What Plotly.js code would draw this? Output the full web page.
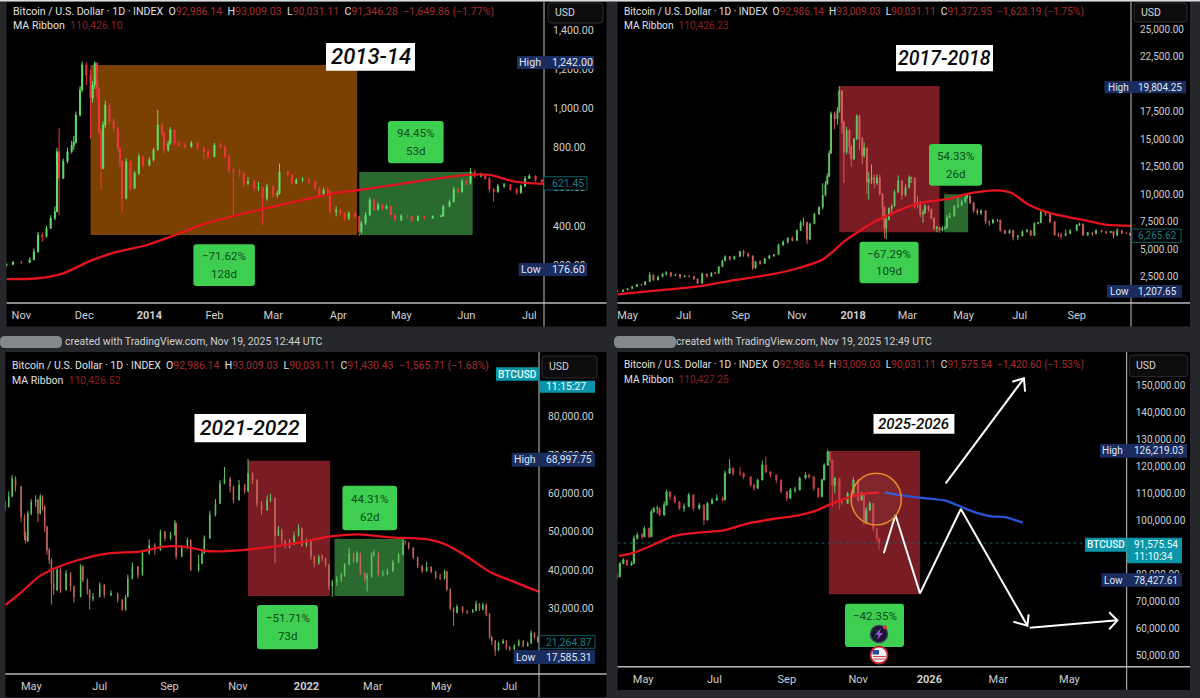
<!DOCTYPE html>
<html><head><meta charset="utf-8">
<script src="https://cdn.plot.ly/plotly-3.0.1.min.js"></script>
<style>html,body{margin:0;padding:0;background:#26272a}#c{width:1200px;height:698px}</style>
</head><body><div id="c"></div>
<script>
// ---------- Panel 1: 2013-14 ----------
const p1Dates=['2013-10-25','2013-10-28','2013-11-01','2013-11-05','2013-11-07','2013-11-09','2013-11-11','2013-11-13','2013-11-15','2013-11-17',
'2013-11-18','2013-11-19','2013-11-21','2013-11-23','2013-11-25','2013-11-26','2013-11-27','2013-11-29','2013-11-30','2013-12-02',
'2013-12-04','2013-12-05','2013-12-06','2013-12-07','2013-12-08','2013-12-09','2013-12-10','2013-12-11','2013-12-13','2013-12-15',
'2013-12-17','2013-12-18','2013-12-19','2013-12-21','2013-12-23','2013-12-25','2013-12-27','2013-12-29','2014-01-01','2014-01-03',
'2014-01-05','2014-01-07','2014-01-08','2014-01-10','2014-01-11','2014-01-13','2014-01-15','2014-01-18','2014-01-21','2014-01-24',
'2014-01-27','2014-01-29','2014-02-01','2014-02-04','2014-02-06','2014-02-08','2014-02-10','2014-02-13','2014-02-15','2014-02-17',
'2014-02-20','2014-02-22','2014-02-24','2014-02-26','2014-03-01','2014-03-03','2014-03-04','2014-03-08','2014-03-10','2014-03-12',
'2014-03-15','2014-03-18','2014-03-21','2014-03-23','2014-03-25','2014-03-27','2014-03-28','2014-03-31','2014-04-02','2014-04-04',
'2014-04-06','2014-04-09','2014-04-11','2014-04-12','2014-04-14','2014-04-16','2014-04-18','2014-04-20','2014-04-22','2014-04-24',
'2014-04-26','2014-04-28','2014-05-01','2014-05-04','2014-05-06','2014-05-09','2014-05-12','2014-05-16','2014-05-20','2014-05-21',
'2014-05-24','2014-05-26','2014-05-28','2014-05-30','2014-06-01','2014-06-03','2014-06-05','2014-06-08','2014-06-10','2014-06-12',
'2014-06-14','2014-06-16','2014-06-19','2014-06-22','2014-06-25','2014-06-27','2014-06-29','2014-07-01','2014-07-04','2014-07-07'];
const p1Close=[204,215,214,227,269,354,346,388,440,473,
780,644,730,780,810,828,967,1095,1223,1172,
1053,1120,1231,1104,882,695,916,1018,933,899,
797,729,542,729,593,669,755,712,737,789,
916,874,789,823,891,823,814,806,823,797,
780,755,814,806,755,686,678,669,618,627,
593,598,542,601,559,567,677,660,618,635,
638,627,592,558,584,575,473,480,465,439,
465,448,371,414,456,533,485,507,490,499,
456,431,451,448,427,448,439,448,451,499,
524,587,575,627,618,677,655,660,643,587,
575,604,609,587,570,604,643,655,635,627];
const p1High=[212,220,222,240,285,370,365,400,455,500,
800,899,745,800,835,860,985,1115,1240,1235,
1200,1140,1242,1236,1110,900,935,1040,1025,950,
905,800,735,745,735,680,770,762,750,800,
993,925,880,835,905,895,835,830,835,830,
805,790,825,825,812,765,700,690,680,650,
635,625,600,615,610,580,720,685,665,645,
650,645,632,600,595,600,580,500,490,470,
475,470,452,425,470,545,540,520,515,510,
505,462,460,458,452,455,452,455,458,510,
535,600,595,640,640,695,685,672,668,650,
595,615,620,615,595,612,655,665,660,640];
const p1Low=[190,200,206,215,225,262,320,340,385,430,
470,456,640,720,770,790,820,960,1085,1120,
848,1030,1100,1050,870,584,690,900,915,880,
780,700,465,535,580,590,660,700,705,730,
785,860,770,780,815,810,805,795,800,785,
740,745,750,795,745,670,457,650,600,610,
580,580,405,530,545,545,560,650,610,615,
625,615,585,550,550,560,460,450,450,425,
430,440,349,360,405,450,475,480,480,485,
445,425,425,440,420,425,432,438,445,448,
495,520,565,570,610,612,645,648,635,570,
524,570,595,580,560,565,600,640,625,618];
const p1MaDates=['2013-10-25','2013-11-09','2013-11-21','2013-12-03','2013-12-16','2013-12-31','2014-01-12','2014-01-27','2014-02-10','2014-03-01','2014-03-20','2014-03-30','2014-04-11','2014-04-26','2014-05-10','2014-06-01','2014-06-12','2014-06-24','2014-07-08'];
const p1Ma=[128,133,158,218,266,303,349,410,451,499,545,567,584,608,630,661,661,627,615];

// ---------- Panel 2: 2017-2018 ----------
const p2Dates=['2017-04-20','2017-04-26','2017-05-01','2017-05-06','2017-05-11','2017-05-16','2017-05-20','2017-05-25','2017-05-29','2017-06-03',
'2017-06-08','2017-06-12','2017-06-17','2017-06-22','2017-06-27','2017-07-02','2017-07-07','2017-07-12','2017-07-16','2017-07-21',
'2017-07-26','2017-07-31','2017-08-04','2017-08-08','2017-08-12','2017-08-15','2017-08-20','2017-08-25','2017-08-31','2017-09-04',
'2017-09-09','2017-09-14','2017-09-17','2017-09-22','2017-09-27','2017-10-02','2017-10-07','2017-10-12','2017-10-17','2017-10-22',
'2017-10-27','2017-11-01','2017-11-05','2017-11-08','2017-11-12','2017-11-15','2017-11-20','2017-11-25','2017-11-29','2017-12-02',
'2017-12-04','2017-12-06','2017-12-08','2017-12-12','2017-12-15','2017-12-17','2017-12-20','2017-12-22','2017-12-25','2017-12-28',
'2017-12-30','2018-01-02','2018-01-05','2018-01-08','2018-01-11','2018-01-13','2018-01-16','2018-01-18','2018-01-21','2018-01-24',
'2018-01-27','2018-01-30','2018-02-02','2018-02-04','2018-02-06','2018-02-09','2018-02-12','2018-02-15','2018-02-19','2018-02-23',
'2018-02-27','2018-03-03','2018-03-05','2018-03-09','2018-03-12','2018-03-15','2018-03-18','2018-03-20','2018-03-24','2018-03-27',
'2018-03-30','2018-04-02','2018-04-05','2018-04-08','2018-04-11','2018-04-13','2018-04-16','2018-04-21','2018-04-25','2018-04-29',
'2018-05-03','2018-05-05','2018-05-08','2018-05-12','2018-05-16','2018-05-20','2018-05-25','2018-05-29','2018-06-02','2018-06-07',
'2018-06-10','2018-06-15','2018-06-20','2018-06-24','2018-06-29','2018-07-04','2018-07-09','2018-07-13','2018-07-17','2018-07-21',
'2018-07-24','2018-07-29','2018-08-03','2018-08-08','2018-08-12','2018-08-15','2018-08-20','2018-08-25','2018-09-01','2018-09-04',
'2018-09-08','2018-09-13','2018-09-18','2018-09-22','2018-09-28','2018-10-03','2018-10-08','2018-10-11','2018-10-15','2018-10-20',
'2018-10-25','2018-10-29'];
const p2Close=[1150,1300,1420,1600,1800,1750,2050,2660,2200,2500,
2750,2870,2620,2700,2500,2570,2520,2300,1900,2750,
2550,2850,2820,3400,3950,4325,4100,4350,4780,4600,
4400,3300,3870,3700,4150,4400,4500,5400,5650,6000,
5800,6700,7400,7450,5900,7300,8200,8800,9900,10900,
11600,13700,17300,16800,17600,19400,16500,13800,15800,14300,
13200,15000,17100,15000,13500,14200,11100,11300,11500,11000,
11500,10000,8800,6900,7700,8700,8900,10200,11200,9900,
10600,11500,11500,9300,9200,8200,8300,8900,8600,7800,
6900,7000,6700,6900,6950,7900,8000,8900,9000,9300,
9700,9850,9200,8500,8300,8500,7500,7400,7650,7650,
6700,6450,6700,6100,6200,6600,6700,6250,7350,7400,
8400,8200,7500,6300,6300,6250,6400,6700,7200,7300,
6300,6500,6400,6700,6600,6500,6600,6250,6700,6450,
6450,6270];
const p2High=[1200,1340,1460,1640,1850,1850,2100,2900,2700,2560,
2820,3000,2900,2760,2760,2640,2610,2550,2340,2850,
2780,2900,2900,3450,4050,4450,4370,4400,4850,4950,
4650,4400,3950,4000,4200,4480,4550,5500,5800,6100,
6150,6800,7600,7850,7300,7400,8300,8900,11000,11200,
11900,14000,17500,17500,17900,19804,19400,16700,16100,15900,
14500,15100,17250,17200,15200,14700,14000,12000,12700,11800,
11800,11800,10100,8900,7900,8800,9100,10400,11700,11300,
10900,11700,11600,11500,9800,9400,8600,9100,9000,8700,
7900,7100,7100,7100,7100,8100,8300,9000,9700,9500,
9800,10020,9900,9300,8700,8600,8500,7600,7750,7750,
7650,6700,6800,6750,6300,6700,6850,6750,7450,7500,
8470,8300,8200,7500,6500,6500,6800,6800,7300,7400,
7300,6550,6500,6800,6800,6650,6650,6600,6900,6600,
6500,6400];
const p2Low=[1100,1140,1290,1400,1580,1700,1740,2050,2100,2180,
2480,2600,2450,2550,2300,2440,2440,2240,1850,1890,
2400,2500,2750,2800,3380,3900,3950,4050,4300,4300,
4250,3115,3200,3600,3680,4100,4300,4500,5300,5500,
5700,5780,6700,7100,5500,5850,7300,8100,8600,9800,
10900,11600,13700,15900,16300,17400,15500,11000,13600,13600,
12500,13100,14900,14000,12700,13300,10000,9500,10900,10500,
10800,9900,7700,6000,5900,7600,8200,8900,10100,9500,
9800,10500,11000,8700,8700,7900,7400,8200,8400,7700,
6700,6550,6500,6600,6750,6900,7800,7950,8700,8900,
9200,9600,9100,8300,8100,8100,7300,7100,7300,7500,
6600,6350,6400,5800,5850,6200,6500,6200,6350,7250,
7400,8000,7400,6250,6100,5900,6200,6400,6900,7100,
6200,6200,6200,6400,6500,6400,6500,6000,6250,6400,
6400,6250];
const p2MaDates=['2017-04-20','2017-05-31','2017-07-15','2017-08-25','2017-10-01','2017-11-02','2017-11-28','2017-12-10','2017-12-22','2018-01-07','2018-01-24','2018-02-09','2018-03-02','2018-03-22','2018-04-15','2018-05-05','2018-05-22','2018-06-11','2018-06-23','2018-07-10','2018-08-04','2018-08-24','2018-09-09','2018-10-04','2018-10-30'];
const p2Ma=[906,1240,1600,2200,2660,3270,4030,4780,5690,6600,7500,8110,8870,9320,9560,10020,10260,10320,10080,9080,8260,7900,7650,7200,7110];

// ---------- Panel 3: 2021-2022 ----------
const p3Dates=['2021-04-08','2021-04-11','2021-04-14','2021-04-17','2021-04-22','2021-04-25','2021-04-26','2021-04-28','2021-05-01','2021-05-05',
'2021-05-07','2021-05-09','2021-05-11','2021-05-13','2021-05-15','2021-05-17','2021-05-19','2021-05-21','2021-05-24','2021-05-27',
'2021-06-01','2021-06-05','2021-06-08','2021-06-14','2021-06-16','2021-06-20','2021-06-22','2021-06-25','2021-07-01','2021-07-05',
'2021-07-11','2021-07-17','2021-07-21','2021-07-24','2021-07-26','2021-07-30','2021-08-04','2021-08-08','2021-08-14','2021-08-19',
'2021-08-24','2021-08-28','2021-09-02','2021-09-06','2021-09-07','2021-09-12','2021-09-17','2021-09-20','2021-09-27','2021-09-30',
'2021-10-02','2021-10-07','2021-10-12','2021-10-16','2021-10-20','2021-10-25','2021-10-28','2021-11-02','2021-11-07','2021-11-10',
'2021-11-14','2021-11-18','2021-11-22','2021-11-27','2021-11-30','2021-12-04','2021-12-07','2021-12-10','2021-12-13','2021-12-17',
'2021-12-21','2021-12-25','2021-12-28','2022-01-01','2022-01-05','2022-01-08','2022-01-12','2022-01-15','2022-01-18','2022-01-21',
'2022-01-24','2022-01-28','2022-02-01','2022-02-04','2022-02-08','2022-02-12','2022-02-15','2022-02-18','2022-02-22','2022-02-24',
'2022-02-28','2022-03-02','2022-03-06','2022-03-10','2022-03-14','2022-03-19','2022-03-24','2022-03-28','2022-03-30','2022-04-02',
'2022-04-06','2022-04-10','2022-04-14','2022-04-18','2022-04-22','2022-04-26','2022-04-30','2022-05-04','2022-05-06','2022-05-09',
'2022-05-12','2022-05-15','2022-05-20','2022-05-24','2022-05-29','2022-06-01','2022-06-04','2022-06-07','2022-06-10','2022-06-13',
'2022-06-15','2022-06-18','2022-06-21','2022-06-25','2022-06-28','2022-07-01','2022-07-05','2022-07-09','2022-07-13','2022-07-17',
'2022-07-20','2022-07-23','2022-07-26'];
const p3Close=[56500,59200,63900,61700,53900,49000,47500,54800,57800,58300,
54800,59200,56500,51300,45200,42600,36500,34800,40000,34800,
39100,35700,33000,40900,37400,34800,32600,33000,36100,33500,
33900,32200,29600,33000,37800,40900,38700,44400,46500,45200,
50000,48300,49100,52200,43500,45700,47800,40000,41700,44400,
48300,54400,57400,62600,63900,61800,58300,62200,60500,65200,
63500,57400,55700,58300,58700,49000,50500,47500,46700,47000,
49000,50900,46500,47700,43500,41700,43500,43000,41300,35700,
37000,37700,38700,41500,44300,42200,44400,39100,37800,38300,
44000,44400,38900,39000,39700,42000,44000,47200,47100,45800,
43300,41000,39700,40800,39600,38000,37800,39600,35000,30000,
28900,30400,29200,29000,29400,31200,29700,31000,28500,22500,
21500,19000,20900,21500,19900,19300,20200,21500,20200,20800,
23600,22500,21265];
const p3High=[58000,60500,64800,64500,62000,54500,50000,55500,58500,59500,
58600,59800,59500,57000,51500,45800,43000,40000,41000,40500,
40000,39500,36000,41500,41200,37800,35000,34000,36800,36300,
34700,34100,32400,33500,38800,42000,41000,45000,48000,47000,
50500,50200,50000,53000,52400,46500,48500,48000,44000,45000,
49000,55500,58500,63500,66900,64300,62000,63500,62500,68998,
65500,63700,58000,59500,59900,59000,51500,50800,48000,48000,
50000,51900,51100,48200,47900,43800,44000,44000,43300,41600,
37400,38400,39200,41800,45800,44600,44900,44500,39400,39200,
44600,45300,44600,40000,40400,42600,44500,48190,47800,47300,
46000,43500,41300,42200,41000,39800,39000,40100,39800,35200,
30300,31000,30600,29500,29800,32000,31400,31500,31200,28700,
22800,21700,21300,22000,21700,20200,20600,21900,21700,21300,
24200,23800,22700];
const p3Low=[55500,56300,59000,60500,52500,47800,47000,47400,54300,56500,
52500,54500,55500,50000,44000,41500,31000,33500,34500,34000,
34600,34500,31500,32900,36800,33600,29700,31800,32800,32700,
33200,31500,29300,29400,32900,37500,37800,38500,44000,44000,
45000,47500,47800,49000,42800,43300,45500,39800,39500,41500,
44200,48100,54000,57200,62400,60200,57500,58100,59800,60300,
62500,56500,54500,55400,57800,41800,48800,46800,45600,45700,
46500,48700,46000,46000,42600,40700,41400,42300,40800,34800,
33000,35900,36800,38200,41200,41700,41900,38700,36900,34400,
38000,43500,38300,38300,38700,39500,41800,43800,46600,45300,
42800,40500,39200,39600,39100,37600,37400,37500,34500,29500,
25400,28700,28700,28500,28800,29200,29300,29500,27900,22000,
20400,17585,18800,20700,19200,18900,19100,20100,19900,20000,
20700,22100,21000];
const p3MaDates=['2021-04-08','2021-04-21','2021-05-08','2021-05-22','2021-06-12','2021-07-09','2021-08-06','2021-08-27','2021-09-17','2021-10-04','2021-11-05','2021-12-02','2021-12-30','2022-01-19','2022-02-16','2022-03-16','2022-04-19','2022-05-06','2022-05-24','2022-06-13','2022-07-08','2022-07-27'];
const p3Ma=[30864,33900,38260,40440,42610,44350,44790,46095,46000,44960,45200,46100,47400,48620,49300,48530,48000,46530,43480,39570,36520,34340];

// ---------- Panel 4: 2025-2026 ----------
const p4Dates=['2025-04-09','2025-04-11','2025-04-14','2025-04-17','2025-04-21','2025-04-23','2025-04-26','2025-04-30','2025-05-02','2025-05-06',
'2025-05-08','2025-05-10','2025-05-13','2025-05-15','2025-05-19','2025-05-21','2025-05-24','2025-05-28','2025-06-01','2025-06-05',
'2025-06-09','2025-06-13','2025-06-18','2025-06-22','2025-06-25','2025-06-29','2025-07-03','2025-07-08','2025-07-10','2025-07-14',
'2025-07-17','2025-07-23','2025-07-26','2025-08-01','2025-08-04','2025-08-07','2025-08-11','2025-08-14','2025-08-18','2025-08-23',
'2025-08-27','2025-09-01','2025-09-04','2025-09-08','2025-09-12','2025-09-17','2025-09-20','2025-09-24','2025-09-28','2025-10-01',
'2025-10-03','2025-10-06','2025-10-08','2025-10-10','2025-10-12','2025-10-16','2025-10-18','2025-10-23','2025-10-28','2025-11-01',
'2025-11-04','2025-11-06','2025-11-08','2025-11-11','2025-11-14','2025-11-17','2025-11-19'];
const p4Close=[79100,84000,85300,83400,84000,93300,94600,93900,97000,93900,
103200,104500,104500,102000,105700,110600,108800,106900,104500,105100,
109400,104500,105700,100100,106300,107500,108200,107600,117500,119300,
117500,117500,116200,113100,111900,115000,120500,118000,116800,115000,
110700,108200,111300,111300,115600,116800,116200,111900,108800,115000,
120500,125500,122400,113000,115600,107500,106300,110000,115000,107600,
109400,99000,103800,106300,97000,93300,91575];
const p4High=[80500,84500,86000,85500,84800,94400,95500,95400,97800,97300,
104000,105000,105500,104800,107000,111500,110800,109400,107200,106300,
110200,109700,106500,105800,106800,108300,109600,108900,118500,122700,
119700,119800,117800,116400,113500,115500,122200,123700,118300,117000,
115200,111000,112000,112500,116300,117800,117400,116400,112200,115500,
121200,126219,125700,122600,116200,115800,108000,110600,116000,115200,
110600,109600,104800,107000,106500,97200,93300];
const p4Low=[78428,78800,83700,83000,83200,84000,92800,92900,93700,93400,
93800,102800,102500,101500,101700,105500,107500,106400,103800,103200,
104900,103500,103900,98200,100000,105900,107200,106900,107400,117200,
116500,116500,115300,112500,111000,111700,114900,117500,115800,113800,
110000,107200,108000,110300,111100,115200,115500,111000,108200,108600,
114900,120300,121600,104900,110000,104000,105500,106100,109800,106800,
107300,98000,98700,103500,96000,92000,89000];
const p4MaDates=['2025-04-10','2025-04-21','2025-05-06','2025-05-27','2025-06-18','2025-07-08','2025-07-30','2025-08-22','2025-09-11','2025-09-26','2025-10-10','2025-10-24','2025-11-05','2025-11-19'];
const p4Ma=[86750,87740,90220,94180,95540,96160,98880,100620,101860,103590,106310,108540,109780,110270];
const p4ForecastDates=['2025-11-24','2025-12-10','2025-12-26','2026-01-15','2026-01-28','2026-02-10','2026-02-23','2026-03-07','2026-03-22'];
const p4Forecast=[110280,109150,108300,107300,105070,102840,101500,101240,99130];
const p4ArrowDates=['2025-11-23','2025-12-03','2025-12-24','2026-01-28','2026-03-26',null,'2026-03-14','2026-03-26','2026-03-27',null,
'2026-03-28','2026-06-11',null,'2026-06-04','2026-06-11','2026-06-04',null,
'2026-01-15','2026-03-23',null,'2026-03-13','2026-03-23','2026-03-24'];
const p4ArrowPrices=[87760,101990,72900,104210,60890,null,62370,60890,65110,null,
60140,62880,null,65850,62880,59530,null,
113750,152740,null,151490,152740,147770];

// ---------- Axis labels ----------
const p1TickDates=['2013-11-01','2013-12-01','2014-01-01','2014-02-01','2014-03-01','2014-04-01','2014-05-01','2014-06-01','2014-07-01'];
const p1TickText=['Nov','Dec','<b>2014</b>','Feb','Mar','Apr','May','Jun','Jul'];
const p2TickDates=['2017-05-01','2017-07-01','2017-09-01','2017-11-01','2018-01-01','2018-03-01','2018-05-01','2018-07-01','2018-09-01'];
const p2TickText=['May','Jul','Sep','Nov','<b>2018</b>','Mar','May','Jul','Sep'];
const p3TickDates=['2021-05-01','2021-07-01','2021-09-01','2021-11-01','2022-01-01','2022-03-01','2022-05-01','2022-07-01'];
const p3TickText=['May','Jul','Sep','Nov','<b>2022</b>','Mar','May','Jul'];
const p4TickDates=['2025-05-01','2025-07-01','2025-09-01','2025-11-01','2026-01-01','2026-03-01','2026-05-01'];
const p4TickText=['May','Jul','Sep','Nov','<b>2026</b>','Mar','May'];
const p1Prices=[200,400,600,800,1000,1200,1400];
const p2Prices=[2500,5000,7500,10000,12500,15000,17500,22500,25000];
const p3Prices=[30000,40000,50000,60000,70000,80000];
const p4Prices=[50000,60000,70000,80000,100000,110000,120000,130000,140000,150000];

// ---------- Layout helpers (pixels to paper fractions) ----------
const X=p=>p/1200, Y=p=>1-p/698;
const FONT='Roboto, "Noto Sans", sans-serif';
const shapes=[], ann=[];
function box(x0,y0,x1,y1,fill,layer,line){shapes.push({type:'rect',xref:'paper',yref:'paper',x0:X(x0),x1:X(x1),y0:Y(y0),y1:Y(y1),fillcolor:fill,line:line||{width:0},layer:layer||'above'});}
function rbox(x0,y0,x1,y1,r,fill,line){
  const a=X(x0),b=X(x1),c=Y(y0),d=Y(y1),rx=r/1200,ry=r/698;
  shapes.push({type:'path',xref:'paper',yref:'paper',fillcolor:fill,line:line||{width:0},layer:'above',
    path:`M${a+rx},${c} L${b-rx},${c} Q${b},${c} ${b},${c-ry} L${b},${d+ry} Q${b},${d} ${b-rx},${d} L${a+rx},${d} Q${a},${d} ${a},${d+ry} L${a},${c-ry} Q${a},${c} ${a+rx},${c} Z`});
}
function txt(x,y,text,o){o=o||{};ann.push({xref:'paper',yref:'paper',x:X(x),y:Y(y),text,showarrow:false,xanchor:o.anchor||'left',yanchor:'middle',
  font:{family:o.family||FONT,size:o.size||10.5,color:o.color||'#d4d4d4',style:o.style,weight:o.weight},borderpad:0,borderwidth:0});}
function circle(cx,cy,r,fill,line){shapes.push({type:'circle',xref:'paper',yref:'paper',x0:X(cx-r),x1:X(cx+r),y0:Y(cy+r),y1:Y(cy-r),fillcolor:fill,line:line||{width:0},layer:'above'});}

const NAVY='#1b2c5e', TEAL='#0a96a8', LINE='#b9b9b9', GREEN='#3fcf50', GTXT='#0c4a1c';
function frame(l,t,ax,b,r,bottom){
  box(l,t,r,bottom,'#000','below');
  shapes.push({type:'line',xref:'paper',yref:'paper',x0:X(l),x1:X(r),y0:Y(b),y1:Y(b),line:{color:LINE,width:1.5},layer:'above'});
  shapes.push({type:'line',xref:'paper',yref:'paper',x0:X(ax),x1:X(ax),y0:Y(t),y1:Y(bottom),line:{color:'#c4c4c4',width:1},layer:'above'});
}
function header(x,y1,y2,close,chg,ma,size){
  const R='#a32c30';
  txt(x,y1,`Bitcoin / U.S. Dollar · 1D · INDEX  O<span style="color:${R}">92,986.14</span>  H<span style="color:${R}">93,009.03</span>  L<span style="color:${R}">90,031.11</span>  C<span style="color:${R}">${close}  ${chg}</span>`,{size,color:'#e0e0e0'});
  txt(x,y2,`MA Ribbon  <span style="color:#8f1c20">${ma}</span>`,{size,color:'#e0e0e0'});
}
function usd(x0,y0,x1,y1,tx){rbox(x0,y0,x1,y1,3,'#0c0c0e',{color:'#2e2e32',width:1});txt(tx,(y0+y1)/2,'USD',{size:10.5});}
function hiLo(x0,y0,x1,y1,labelX,label,valueX,value,size){box(x0,y0,x1,y1,NAVY);txt(labelX,(y0+y1)/2,label,{anchor:'center',size,color:'#dfe6f5'});txt(valueX,(y0+y1)/2,value,{size,color:'#dfe6f5'});}
function tag(x0,y0,x1,y1,tx,value,size){box(x0,y0,x1,y1,'#000','above',{color:'#0d5e69',width:1});txt(tx,(y0+y1)/2,value,{size,color:'#0f7f8e'});}
function stat(x0,y0,x1,y1,t1,t2){rbox(x0,y0,x1,y1,3,GREEN);const cx=(x0+x1)/2,h=y1-y0;txt(cx,y0+h*0.29,t1,{anchor:'center',size:11.5,color:GTXT});if(t2)txt(cx,y0+h*0.71,t2,{anchor:'center',size:11.5,color:GTXT});}
function banner(x0,y0,x1,y1,t,size){box(x0,y0,x1,y1,'#fff');txt((x0+x1)/2,(y0+y1)/2,t,{anchor:'center',size,color:'#0a0a0a',style:'italic',weight:500});}

// ---------- Page chrome ----------
box(0,0,1200,1.5,'#dcdcdc','below');
frame(6.6,2,544,303,606.5,326.5);
frame(617.5,2,1131,303,1190,326.5);
frame(5.4,352,539,674,606.5,697);
frame(617.5,352,1126.7,666.7,1190,690);

rbox(0,336,62,348,5,'#85888c');
rbox(614,336,676,348,5,'#85888c');
txt(65,341,'created with TradingView.com, Nov 19, 2025 12:44 UTC',{size:10.5,color:'#cfcfcf'});
txt(676,341,'created with TradingView.com, Nov 19, 2025 12:49 UTC',{size:10.45,color:'#cfcfcf'});

header(13,12,25.7,'91,346.28','−1,649.86 (−1.77%)','110,426.10',10.6);
header(624,12,25.7,'91,372.95','−1,623.19 (−1.75%)','110,426.23',10.15);
header(12,366,380.7,'91,430.43','−1,565.71 (−1.68%)','110,426.52',10.5);
header(624,365,379.7,'91,575.54','−1,420.60 (−1.53%)','110,427.25',10.15);

usd(548,3,603,23,555); usd(1134,3,1187,22,1141); usd(542,356,597,378,549); usd(1129.4,355,1187.7,376.7,1136);

hiLo(517,56,594,69,530,'High',552,'1,242.00',10.7);
hiLo(518.7,263,587,276,531,'Low',552,'176.60',10.7);
tag(544,176.7,587,190,552,'621.45',10.5);
hiLo(1104.5,81,1186,93.3,1118,'High',1138,'19,804.25',10);
hiLo(1107,285,1182,297.7,1119,'Low',1138,'1,207.65',10);
tag(1132,229,1181,242.3,1138,'6,265.62',10);
hiLo(511.7,452.7,595,466.7,525,'High',546,'68,997.75',10.4);
hiLo(513.6,650,595,664,526,'Low',546,'17,585.31',10.4);
tag(539.7,635.7,595,648.3,546,'21,264.87',10.4);
box(496,367.3,539,380.7,TEAL);txt(517.5,374,'BTCUSD',{anchor:'center',size:10.2,color:'#eafcff',weight:500});
box(539,380.7,595,392.7,TEAL);txt(546,386,'11:15:27',{size:10.4,color:'#eafcff'});
hiLo(1100,444,1187,457.7,1112.4,'High',1134,'126,219.03',10);
hiLo(1101.5,573.3,1182,586.7,1113.6,'Low',1134,'78,427.61',10);
box(1085,537.7,1126.7,551.7,TEAL);txt(1106,544.5,'BTCUSD',{anchor:'center',size:10,color:'#eafcff',weight:500});
box(1126.7,537.7,1182,563.3,TEAL);txt(1134,544.5,'91,575.54',{size:10,color:'#eafcff'});txt(1134,556,'11:10:34',{size:10,color:'#eafcff'});

stat(193.4,244.3,254.9,286,'−71.62%','128d');
stat(388,121,443.6,163.3,'94.45%','53d');
stat(859.5,241.7,918.6,283.3,'−67.29%','109d');
stat(929,144,982,185.7,'54.33%','26d');
stat(257,605,318,649.3,'−51.71%','73d');
stat(342.4,485.7,397,530.3,'44.31%','62d');
stat(845,603.7,904,647,'−42.35%','7');

banner(326,43,415,70.7,'2013-14',22);
banner(896,45,993,71.3,'2017-2018',19.5);
banner(194.5,414,306,442.3,'2021-2022',21);
banner(873.5,414,954.4,433.7,'2025-2026',15);

// event icons on panel 4
circle(879,634,8.5,'#1d1230',{color:'#3b3b63',width:1.5});
shapes.push({type:'path',xref:'paper',yref:'paper',layer:'above',fillcolor:'#9a55d6',line:{width:0},
  path:`M${X(881)},${Y(628)} L${X(875)},${Y(635)} L${X(878.5)},${Y(635)} L${X(877)},${Y(640)} L${X(883)},${Y(633)} L${X(879.5)},${Y(633)} Z`});
circle(885,627.5,2,'#e0303a');
circle(879,655,8.5,'#eef0f6',{color:'#c8262c',width:1.8});
box(872.5,650,879,654.5,'#2a4a9a');
box(873,656,885.5,657,'#d04048');box(874,658.5,884.5,659.5,'#d04048');

// rectangles in data space
function zone(xa,x0,x1,y0,y1,fill){shapes.push({type:'rect',xref:xa,yref:xa.replace('x','y'),x0,x1,y0,y1,fillcolor:fill,line:{width:0},layer:'below'});}
const ORANGE='#7a4103', RED='#7a1c23', DGREEN='#2a6a2f';
zone('x','2013-12-04','2014-04-10',354,1223,ORANGE);
zone('x','2014-04-11','2014-06-04',354,676,DGREEN);
zone('x2','2017-12-17','2018-04-05',6535,19823,RED);
zone('x2','2018-04-10','2018-05-06',6535,10000,DGREEN);
zone('x3','2021-11-10','2022-01-22',33210,68540,RED);
zone('x3','2022-01-26','2022-03-29',33210,48090,DGREEN);
zone('x4','2025-10-07','2025-12-24',72540,125750,RED);
shapes.push({type:'line',xref:'x4',yref:'y4',x0:'2025-04-09',x1:'2026-06-19',y0:91575,y1:91575,line:{color:'#1f5a60',width:1,dash:'dot'},layer:'below'});
shapes.push({type:'circle',xref:'x4',yref:'y4',x0:'2025-10-26',x1:'2025-12-08',y0:98270,y1:117470,line:{color:'#e8862a',width:1.6},fillcolor:'rgba(255,255,255,0.05)',layer:'above'});

// ---------- Traces ----------
function opens(c,h,l){return c.map((v,i)=>i?c[i-1]:(l[0]+h[0])/2);}
function candle(xa,d,c,h,l,up,dn){return {type:'candlestick',xaxis:xa,yaxis:xa.replace('x','y'),x:d,open:opens(c,h,l),high:h,low:l,close:c,
  increasing:{line:{color:up,width:1},fillcolor:up},decreasing:{line:{color:dn,width:1},fillcolor:dn},whiskerwidth:0,hoverinfo:'skip',showlegend:false};}
function ma(xa,d,v,color,w){return {type:'scatter',mode:'lines',xaxis:xa,yaxis:xa.replace('x','y'),x:d,y:v,line:{color,width:w||2.3,shape:'spline',smoothing:0.7},hoverinfo:'skip',showlegend:false};}
const data=[
 candle('x',p1Dates,p1Close,p1High,p1Low,'#5fe06c','#ef3540'), ma('x',p1MaDates,p1Ma,'#e5141e'),
 candle('x2',p2Dates,p2Close,p2High,p2Low,'#62c866','#d2605c'), ma('x2',p2MaDates,p2Ma,'#e5141e'),
 candle('x3',p3Dates,p3Close,p3High,p3Low,'#62c866','#c8665c'), ma('x3',p3MaDates,p3Ma,'#e5141e'),
 candle('x4',p4Dates,p4Close,p4High,p4Low,'#55c860','#c8404a'), ma('x4',p4MaDates,p4Ma,'#e5141e'),
 ma('x4',p4ForecastDates,p4Forecast,'#2a55d8'),
 {type:'scatter',mode:'lines',xaxis:'x4',yaxis:'y4',x:p4ArrowDates,y:p4ArrowPrices,line:{color:'#ffffff',width:2},connectgaps:false,hoverinfo:'skip',showlegend:false}
];

// ---------- Axes ----------
function xAxis(l,r,range,tv,tt,anchor){return {domain:[X(l),X(r)],range,type:'date',anchor,tickmode:'array',tickvals:tv,ticktext:tt,showgrid:false,zeroline:false,showline:false,ticks:'',ticklabelstandoff:4,tickfont:{family:FONT,size:11,color:'#cfcfcf'},rangeslider:{visible:false},fixedrange:true,ticklabeloverflow:'allow'};}
function yAxis(t,b,range,tv,size,anchor){return {domain:[Y(b),Y(t)],range,anchor,side:'right',tickmode:'array',tickvals:tv,tickformat:',.2f',showgrid:false,zeroline:false,showline:false,ticks:'',ticklabelstandoff:8,tickfont:{family:FONT,size,color:'#cfcfcf'},fixedrange:true,ticklabeloverflow:'allow'};}

const layout={width:1200,height:698,margin:{l:0,r:0,t:0,b:0,pad:0},paper_bgcolor:'#26272a',plot_bgcolor:'rgba(0,0,0,0)',showlegend:false,shapes,annotations:ann,
  xaxis:xAxis(6.6,544,['2013-10-25','2014-07-08'],p1TickDates,p1TickText,'y'),
  yaxis:yAxis(2,303,[6.5,1544.6],p1Prices,10.6,'x'),
  xaxis2:xAxis(617.5,1131,['2017-04-20','2018-10-30'],p2TickDates,p2TickText,'y2'),
  yaxis2:yAxis(2,303,[113,27452],p2Prices,10,'x2'),
  xaxis3:xAxis(5.4,539,['2021-04-08','2022-07-27'],p3TickDates,p3TickText,'y3'),
  yaxis3:yAxis(352,674,[12846,96920],p3Prices,10.4,'x3'),
  xaxis4:xAxis(617.5,1126.7,['2025-04-09','2026-06-19'],p4TickDates,p4TickText,'y4'),
  yaxis4:yAxis(352,666.7,[45655,162514],p4Prices,10,'x4')
};
Plotly.newPlot('c',data,layout,{staticPlot:true,displayModeBar:false});
</script></body></html>
